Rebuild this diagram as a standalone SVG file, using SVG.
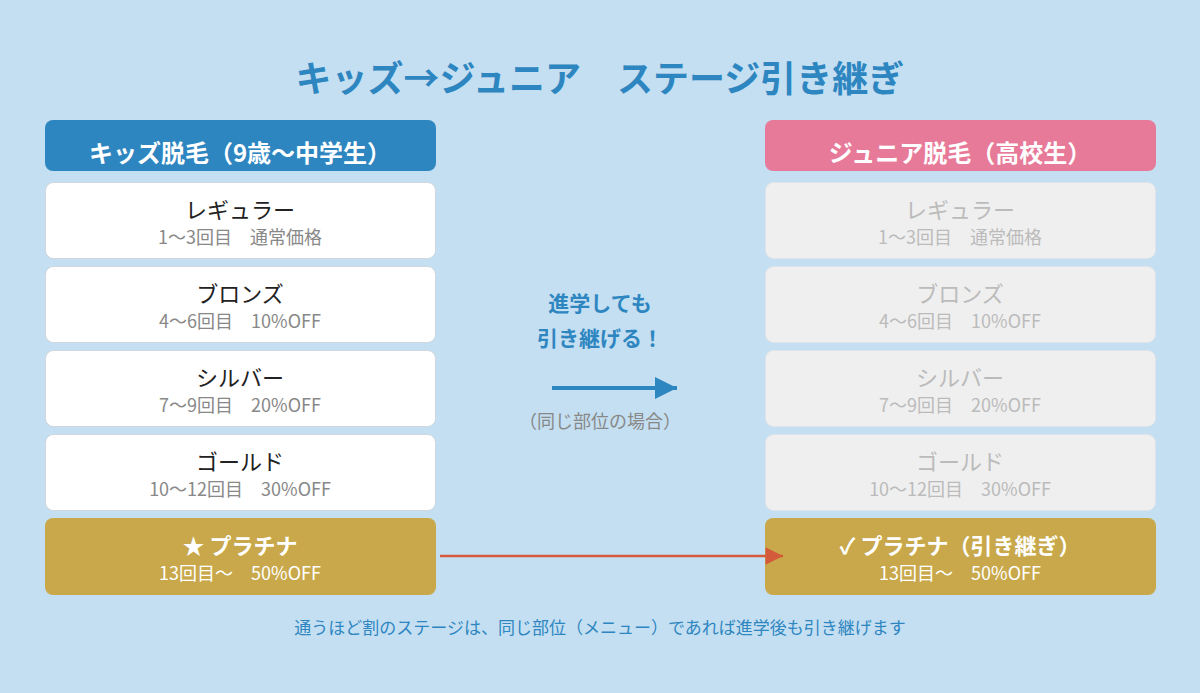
<svg xmlns="http://www.w3.org/2000/svg" width="1200" height="693" viewBox="0 0 1200 693">
<style>
text{font-family:"Noto Sans CJK JP","Noto Sans",sans-serif;text-anchor:middle}
.title{font-size:36px;font-weight:700;fill:#2e86c1}
.hdr{font-size:24px;font-weight:700;fill:#fff}
.card{fill:#fff;stroke:#cfd6dc;stroke-width:1}
.cardg{fill:#efefef;stroke:#dde3e8;stroke-width:1}
.plat{fill:#c8a84a}
.t1{font-size:22px;fill:#222}
.t2{font-size:18px;fill:#888}
.g1{font-size:22px;fill:#bbb}
.g2{font-size:18px;fill:#bbb}
.p1{font-size:22px;font-weight:700;fill:#fff}
.p2{font-size:18px;fill:#fff}
.mid{font-size:21px;font-weight:700;fill:#2e86c1}
.note{font-size:18px;fill:#888}
.foot{font-size:17px;fill:#2e86c1}
</style>
<defs>
<marker id="ab" viewBox="0 0 10 10" refX="10" refY="5" markerWidth="7.5" markerHeight="5.5" orient="auto" markerUnits="strokeWidth"><path d="M0,0L10,5L0,10z" fill="#2e86c1"/></marker>
<marker id="ar" viewBox="0 0 10 10" refX="10" refY="5" markerWidth="8" markerHeight="7" orient="auto" markerUnits="strokeWidth"><path d="M0,0L10,5L0,10z" fill="#d35a3a"/></marker>
</defs>
<rect width="1200" height="693" fill="#c4dff1"/>
<text class="title" x="600" y="92">キッズ→ジュニア　ステージ引き継ぎ</text>

<g id="kids-header"><rect x="45" y="120" width="391" height="51" rx="8" fill="#2e86c1"/><text class="hdr" x="240" y="162">キッズ脱毛（9歳〜中学生）</text></g>
<g id="kids-regular"><rect class="card" x="45.5" y="182.5" width="390" height="76" rx="8"/><text class="t1" x="240" y="218">レギュラー</text><text class="t2" x="240" y="244">1〜3回目　通常価格</text></g>
<g id="kids-bronze"><rect class="card" x="45.5" y="266.5" width="390" height="76" rx="8"/><text class="t1" x="240" y="302">ブロンズ</text><text class="t2" x="240" y="328">4〜6回目　10%OFF</text></g>
<g id="kids-silver"><rect class="card" x="45.5" y="350.5" width="390" height="76" rx="8"/><text class="t1" x="240" y="386">シルバー</text><text class="t2" x="240" y="412">7〜9回目　20%OFF</text></g>
<g id="kids-gold"><rect class="card" x="45.5" y="434.5" width="390" height="76" rx="8"/><text class="t1" x="240" y="470">ゴールド</text><text class="t2" x="240" y="496">10〜12回目　30%OFF</text></g>
<g id="kids-platinum"><rect class="plat" x="45" y="518" width="391" height="77" rx="8"/><text class="p1" x="240" y="554">★ プラチナ</text><text class="p2" x="240" y="580">13回目〜　50%OFF</text></g>

<g id="junior-header"><rect x="765" y="120" width="391" height="51" rx="8" fill="#e77a99"/><text class="hdr" x="960" y="162">ジュニア脱毛（高校生）</text></g>
<g id="junior-regular"><rect class="cardg" x="765.5" y="182.5" width="390" height="76" rx="8"/><text class="g1" x="960" y="218">レギュラー</text><text class="g2" x="960" y="244">1〜3回目　通常価格</text></g>
<g id="junior-bronze"><rect class="cardg" x="765.5" y="266.5" width="390" height="76" rx="8"/><text class="g1" x="960" y="302">ブロンズ</text><text class="g2" x="960" y="328">4〜6回目　10%OFF</text></g>
<g id="junior-silver"><rect class="cardg" x="765.5" y="350.5" width="390" height="76" rx="8"/><text class="g1" x="960" y="386">シルバー</text><text class="g2" x="960" y="412">7〜9回目　20%OFF</text></g>
<g id="junior-gold"><rect class="cardg" x="765.5" y="434.5" width="390" height="76" rx="8"/><text class="g1" x="960" y="470">ゴールド</text><text class="g2" x="960" y="496">10〜12回目　30%OFF</text></g>
<g id="junior-platinum"><rect class="plat" x="765" y="518" width="391" height="77" rx="8"/><text class="p1" x="960" y="554">✓ プラチナ（引き継ぎ）</text><text class="p2" x="960" y="580">13回目〜　50%OFF</text></g>

<g id="middle-label"><text class="mid" x="600" y="311">進学しても</text><text class="mid" x="600" y="346">引き継げる！</text><text class="note" x="600" y="428">（同じ部位の場合）</text></g>

<g id="connectors">
<line x1="552" y1="388" x2="677" y2="388" stroke="#2e86c1" stroke-width="4" marker-end="url(#ab)"/>
<line x1="440" y1="556" x2="783" y2="556" stroke="#d35a3a" stroke-width="2.5" marker-end="url(#ar)"/>
</g>

<text class="foot" x="600" y="634">通うほど割のステージは、同じ部位（メニュー）であれば進学後も引き継げます</text>
</svg>
